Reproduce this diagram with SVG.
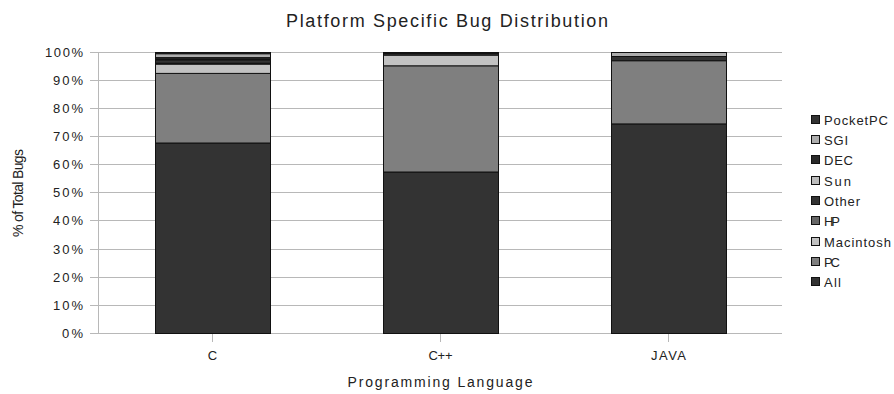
<svg xmlns="http://www.w3.org/2000/svg" width="894" height="394" viewBox="0 0 894 394">
  <style>
    text { font-family: "Liberation Sans", Arial, sans-serif; fill: #222; }
    .tick { font-size: 13px; text-anchor: end; }
    .cat { font-size: 13px; text-anchor: middle; }
    .leg { font-size: 13px; }
    .grid { stroke: #b8b8b8; stroke-width: 1; fill: none; }
    .seg { stroke: #111; stroke-width: 1; }
    .all { fill: #333333; }
    .pc { fill: #7f7f7f; }
    .mac { fill: #c2c2c2; }
    .hp { fill: #666666; }
    .other { fill: #333333; }
    .sun { fill: #bdbdbd; }
    .dec { fill: #2a2a2a; }
    .sgi { fill: #adadad; }
    .ppc { fill: #333333; }
  </style>
  <rect width="894" height="394" fill="#fff"/>

  <!-- title -->
  <text x="447" y="27" font-size="18" text-anchor="middle" textLength="322" lengthAdjust="spacing">Platform Specific Bug Distribution</text>

  <!-- gridlines and axes -->
  <g id="axes">
    <path class="grid" d="M90 52.5H782 M90 80.5H782 M90 108.5H782 M90 136.5H782 M90 164.5H782 M90 192.5H782 M90 220.5H782 M90 249.5H782 M90 277.5H782 M90 305.5H782 M90 333.5H782"/>
    <path class="grid" d="M98.5 52V334 M212.5 333V342 M440.5 333V342 M668.5 333V342"/>
  </g>

  <!-- value axis labels -->
  <g id="y-labels">
    <text class="tick" x="83" y="57" textLength="38" lengthAdjust="spacing">100%</text>
    <text class="tick" x="83" y="85" textLength="30" lengthAdjust="spacing">90%</text>
    <text class="tick" x="83" y="113" textLength="30" lengthAdjust="spacing">80%</text>
    <text class="tick" x="83" y="141" textLength="30" lengthAdjust="spacing">70%</text>
    <text class="tick" x="83" y="169" textLength="30" lengthAdjust="spacing">60%</text>
    <text class="tick" x="83" y="197" textLength="30" lengthAdjust="spacing">50%</text>
    <text class="tick" x="83" y="225" textLength="30" lengthAdjust="spacing">40%</text>
    <text class="tick" x="83" y="254" textLength="30" lengthAdjust="spacing">30%</text>
    <text class="tick" x="83" y="282" textLength="30" lengthAdjust="spacing">20%</text>
    <text class="tick" x="83" y="310" textLength="30" lengthAdjust="spacing">10%</text>
    <text class="tick" x="83" y="338" textLength="21" lengthAdjust="spacing">0%</text>
  </g>
  <text x="23" y="193" font-size="14" text-anchor="middle" transform="rotate(-90 23 193)" textLength="88" lengthAdjust="spacing">% of Total Bugs</text>

  <!-- category labels -->
  <g id="x-labels">
    <text class="cat" x="212.5" y="360">C</text>
    <text class="cat" x="440.5" y="360" textLength="24" lengthAdjust="spacing">C++</text>
    <text class="cat" x="668.5" y="360" textLength="35" lengthAdjust="spacing">JAVA</text>
  </g>
  <text x="440" y="387" font-size="14" text-anchor="middle" textLength="185" lengthAdjust="spacing">Programming Language</text>

  <!-- stacked bars -->
  <g id="bar-c">
    <rect class="seg all" x="155.5" y="143" width="115" height="190.5"/>
    <rect class="seg pc" x="155.5" y="73.4" width="115" height="69.6"/>
    <rect class="seg mac" x="155.5" y="64.1" width="115" height="9.3"/>
    <rect class="seg hp" x="155.5" y="63.2" width="115" height="0.9"/>
    <rect class="seg other" x="155.5" y="60.1" width="115" height="3.1"/>
    <rect class="seg sun" x="155.5" y="59.3" width="115" height="0.8"/>
    <rect class="seg dec" x="155.5" y="57.6" width="115" height="1.7"/>
    <rect class="seg sgi" x="155.5" y="53.7" width="115" height="3.9"/>
    <rect class="seg ppc" x="155.5" y="52.5" width="115" height="1.2"/>
  </g>
  <g id="bar-cpp">
    <rect class="seg all" x="383.5" y="172" width="115" height="161.5"/>
    <rect class="seg pc" x="383.5" y="65.8" width="115" height="106.2"/>
    <rect class="seg mac" x="383.5" y="55.1" width="115" height="10.7"/>
    <rect class="seg other" x="383.5" y="53.4" width="115" height="1.7"/>
    <rect class="seg dec" x="383.5" y="52.5" width="115" height="0.9"/>
  </g>
  <g id="bar-java">
    <rect class="seg all" x="611.5" y="123.9" width="115" height="209.6"/>
    <rect class="seg pc" x="611.5" y="60.7" width="115" height="63.2"/>
    <rect class="seg other" x="611.5" y="56.5" width="115" height="4.2"/>
    <rect class="seg sgi" x="611.5" y="52.5" width="115" height="4"/>
  </g>

  <!-- legend -->
  <g id="legend">
    <rect class="seg ppc" x="811.5" y="115.5" width="8" height="8"/>
    <text class="leg" x="824" y="124.5" textLength="64" lengthAdjust="spacing">PocketPC</text>
    <rect class="seg sgi" x="811.5" y="135.5" width="8" height="8"/>
    <text class="leg" x="824" y="144.5" textLength="24" lengthAdjust="spacing">SGI</text>
    <rect class="seg dec" x="811.5" y="155.5" width="8" height="8"/>
    <text class="leg" x="824" y="164.5" textLength="29" lengthAdjust="spacing">DEC</text>
    <rect class="seg sun" x="811.5" y="176.5" width="8" height="8"/>
    <text class="leg" x="824" y="185.5" textLength="27" lengthAdjust="spacing">Sun</text>
    <rect class="seg other" x="811.5" y="196.5" width="8" height="8"/>
    <text class="leg" x="824" y="205.5" textLength="36" lengthAdjust="spacing">Other</text>
    <rect class="seg hp" x="811.5" y="216.5" width="8" height="8"/>
    <text class="leg" x="824" y="225.5" textLength="16" lengthAdjust="spacing">HP</text>
    <rect class="seg mac" x="811.5" y="237.5" width="8" height="8"/>
    <text class="leg" x="824" y="246.5" textLength="67" lengthAdjust="spacing">Macintosh</text>
    <rect class="seg pc" x="811.5" y="257.5" width="8" height="8"/>
    <text class="leg" x="824" y="266.5" textLength="16" lengthAdjust="spacing">PC</text>
    <rect class="seg all" x="811.5" y="277.5" width="8" height="8"/>
    <text class="leg" x="824" y="286.5" textLength="17" lengthAdjust="spacing">All</text>
  </g>
</svg>
